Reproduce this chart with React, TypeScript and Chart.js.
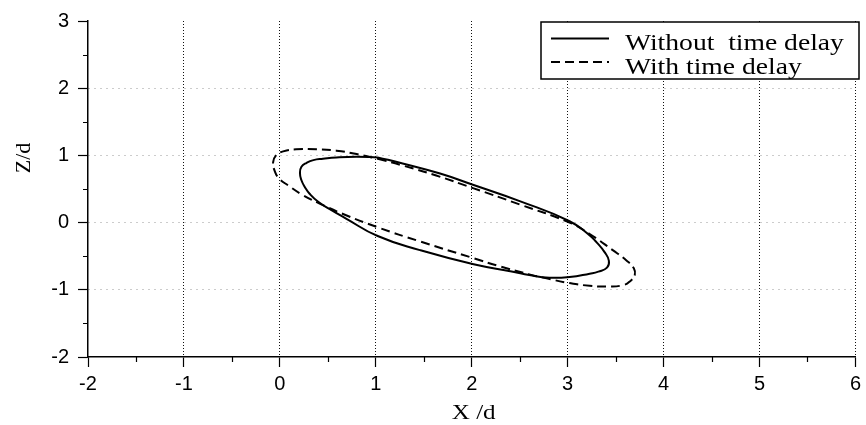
import React, { useEffect, useRef } from "react";
import { Chart, registerables } from "chart.js";

Chart.register(...registerables);

// Orbit traced in the X–Z plane, without delay (solid) and with delay (dashed).
const xNoDelay = [1.02, 1.28, 1.67, 2.02, 2.5, 3.02, 3.23, 3.3, 3.385, 3.43, 3.41, 3.32, 3.23, 3.02, 2.81, 2.6, 2.43, 2.02, 1.46, 1.02, 0.69, 0.52, 0.4, 0.31, 0.26, 0.225, 0.21, 0.225, 0.28, 0.35, 0.45, 0.59, 0.8, 1.02];
const zNoDelay = [0.97, 0.88, 0.73, 0.56, 0.32, 0.02, -0.19, -0.29, -0.44, -0.57, -0.67, -0.73, -0.76, -0.81, -0.82, -0.78, -0.73, -0.62, -0.41, -0.2, 0.06, 0.2, 0.31, 0.43, 0.53, 0.63, 0.73, 0.83, 0.89, 0.93, 0.95, 0.97, 0.98, 0.97];

const xDelay = [1.02, 1.28, 1.63, 2.02, 2.5, 3.02, 3.23, 3.47, 3.61, 3.69, 3.7, 3.66, 3.58, 3.4, 3.23, 3.02, 2.78, 2.6, 2.29, 2.02, 1.46, 1.02, 0.69, 0.42, 0.24, 0.09, -0.01, -0.057, -0.07, -0.04, 0.035, 0.17, 0.38, 0.59, 0.8, 1.02];
const zDelay = [0.95, 0.85, 0.7, 0.51, 0.27, 0.0, -0.17, -0.41, -0.56, -0.68, -0.78, -0.86, -0.93, -0.95, -0.94, -0.9, -0.83, -0.77, -0.65, -0.53, -0.28, -0.07, 0.11, 0.28, 0.41, 0.55, 0.66, 0.78, 0.9, 1.0, 1.06, 1.09, 1.09, 1.07, 1.02, 0.95];

const seriesNames = ["Without  time delay", "With time delay"];
const xRange = [-2, 6];
const zRange = [-2, 3];
const xMinorTicks = [-1.5, -0.5, 0.5, 1.5, 2.5, 3.5, 4.5, 5.5];
const zMinorTicks = [-1.5, -0.5, 0.5, 1.5, 2.5];
const xTitle = "X /d";
const zTitle = "Z/d";

const toPoints = (xs: number[], ys: number[]) => xs.map((x, i) => ({ x, y: ys[i] }));

const SERIF = '"Liberation Serif", "Times New Roman", serif';
const SANS = '"Liberation Sans", Arial, sans-serif';

// Half-unit minor ticks, axis titles and the boxed legend.
const decorations = {
  id: "decorations",
  afterDraw(chart: any) {
    const { ctx, chartArea } = chart;
    const xs = chart.scales.x;
    const ys = chart.scales.y;
    ctx.save();
    ctx.strokeStyle = "#000";
    ctx.lineWidth = 1.2;
    ctx.beginPath();
    xMinorTicks.forEach((v) => {
      const px = Math.round(xs.getPixelForValue(v)) + 0.5;
      ctx.moveTo(px, chartArea.bottom);
      ctx.lineTo(px, chartArea.bottom + 5);
    });
    zMinorTicks.forEach((v) => {
      const py = Math.round(ys.getPixelForValue(v)) + 0.5;
      ctx.moveTo(chartArea.left, py);
      ctx.lineTo(chartArea.left - 5, py);
    });
    ctx.stroke();

    // axis titles
    ctx.fillStyle = "#000";
    ctx.font = `22px ${SERIF}`;
    ctx.textAlign = "center";
    ctx.textBaseline = "middle";
    ctx.save();
    ctx.translate((chartArea.left + chartArea.right) / 2 + 2, 413);
    ctx.scale(1.14, 1);
    ctx.fillText(xTitle, 0, 0);
    ctx.restore();
    ctx.save();
    ctx.translate(24, 158);
    ctx.rotate(-Math.PI / 2);
    ctx.fillText(zTitle, 0, 0);
    ctx.restore();

    // legend
    const bx = 541, by = 22, bw = 318, bh = 57;
    ctx.fillStyle = "#fff";
    ctx.fillRect(bx, by, bw, bh);
    ctx.strokeStyle = "#000";
    ctx.lineWidth = 1.5;
    ctx.strokeRect(bx, by, bw, bh);
    const rows = [38.5, 62];
    const baselines = [50, 74];
    chart.data.datasets.forEach((ds: any, i: number) => {
      ctx.save();
      ctx.strokeStyle = ds.borderColor;
      ctx.lineWidth = ds.borderWidth;
      ctx.setLineDash(ds.borderDash || []);
      ctx.beginPath();
      ctx.moveTo(551, rows[i]);
      ctx.lineTo(609, rows[i]);
      ctx.stroke();
      ctx.restore();
      ctx.save();
      ctx.fillStyle = "#000";
      ctx.font = `24px ${SERIF}`;
      ctx.textAlign = "left";
      ctx.textBaseline = "alphabetic";
      ctx.translate(625, baselines[i]);
      ctx.scale(1.15, 1);
      ctx.fillText(ds.label, 0, 0);
      ctx.restore();
    });
    ctx.restore();
  },
};

export default function App() {
  const canvasRef = useRef<HTMLCanvasElement | null>(null);

  useEffect(() => {
    const canvas = canvasRef.current;
    if (!canvas) return;
    const chart = new Chart(canvas, {
      type: "scatter",
      data: {
        datasets: [
          {
            label: seriesNames[0],
            data: toPoints(xNoDelay, zNoDelay),
            showLine: true,
            borderColor: "#000",
            borderWidth: 2,
            pointRadius: 0,
            tension: 0.5,
            fill: false,
          },
          {
            label: seriesNames[1],
            data: toPoints(xDelay, zDelay),
            showLine: true,
            borderColor: "#000",
            borderWidth: 2,
            borderDash: [9, 5],
            pointRadius: 0,
            tension: 0.5,
            fill: false,
          },
        ],
      },
      options: {
        animation: false,
        responsive: false,
        devicePixelRatio: 1,
        layout: { padding: { top: 19, right: 10, left: 0, bottom: 0 } },
        plugins: { legend: { display: false }, tooltip: { enabled: false } },
        scales: {
          x: {
            type: "linear",
            min: xRange[0],
            max: xRange[1],
            ticks: {
              stepSize: 1,
              color: "#000",
              padding: 5,
              font: { family: SANS, size: 20 },
            },
            grid: {
              color: (c: any) => (c.tick && c.tick.value === xRange[0] ? "rgba(0,0,0,0)" : "#111"),
              lineWidth: 1,
              tickLength: 10,
              tickColor: "#000",
              tickWidth: 1.2,
            },
            border: { display: true, color: "#000", width: 1.5, dash: [1, 2] },
            afterFit: (s: any) => {
              s.height = 68;
            },
          },
          y: {
            type: "linear",
            min: zRange[0],
            max: zRange[1],
            ticks: {
              stepSize: 1,
              color: "#000",
              padding: 9,
              font: { family: SANS, size: 20 },
            },
            grid: {
              color: (c: any) =>
                c.tick && (c.tick.value === zRange[0] || c.tick.value === zRange[1]) ? "rgba(0,0,0,0)" : "#999",
              lineWidth: 1,
              tickLength: 10,
              tickColor: "#000",
              tickWidth: 1.2,
            },
            border: { display: true, color: "#000", width: 1.5, dash: [1, 5] },
            afterFit: (s: any) => {
              s.width = 88;
            },
          },
        },
      },
      plugins: [decorations],
    });
    return () => chart.destroy();
  }, []);

  return (
    <div style={{ position: "absolute", left: 0, top: 0, width: 866, height: 425, background: "#fff" }}>
      <canvas ref={canvasRef} width={866} height={425} />
    </div>
  );
}
